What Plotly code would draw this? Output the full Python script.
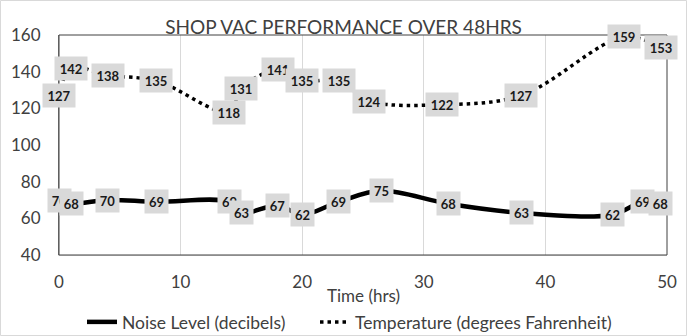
import plotly.graph_objects as go

# ---- data ----
time_noise = [0, 1, 4, 8, 14, 15, 18, 20, 23, 26.5, 32, 38, 45.5, 48, 49.5]
noise_db = [70, 68, 70, 69, 69, 63, 67, 62, 69, 75, 68, 63, 62, 69, 68]
time_temp = [0, 1, 4, 8, 14, 15, 18, 20, 23, 25.5, 31.5, 38, 46.5, 49.5]
temp_f = [127, 142, 138, 135, 118, 131, 141, 135, 135, 124, 122, 127, 159, 153]
x_ticks = [0, 10, 20, 30, 40, 50]
y_ticks = [40, 60, 80, 100, 120, 140, 160]

FONT = "Lato"
TXT = "#404040"

fig = go.Figure()
fig.add_trace(go.Scatter(
    x=time_noise, y=noise_db, mode="lines", name="Noise Level (decibels)",
    line=dict(color="black", width=4.5, shape="spline", smoothing=1),
    legend="legend",
))
fig.add_trace(go.Scatter(
    x=time_temp, y=temp_f, mode="lines", name="Temperature (degrees Fahrenheit)",
    line=dict(color="black", width=3.5, shape="spline", smoothing=1, dash="3.5px,4px"),
    legend="legend2",
))

annotations = []
for xs, ys in ((time_noise, noise_db), (time_temp, temp_f)):
    for xv, yv in zip(xs, ys):
        s = str(yv)
        annotations.append(dict(
            x=xv, y=yv, xref="x", yref="y", text="<b>%s</b>" % s, showarrow=False,
            font=dict(family=FONT, size=13, color="#1a1a1a"),
            bgcolor="#d9d9d9", borderpad=3,
            width=26 if len(s) == 3 else 17, height=17,
            xanchor="center", yanchor="middle",
        ))

W, H = 687, 336
ml, mr, mt, mb = 59, 20, 35, 81
pw, ph = W - ml - mr, H - mt - mb

annotations.append(dict(
    text="Time (hrs)", x=0.5, y=-(295 - (H - mb)) / ph, xref="paper", yref="paper",
    showarrow=False, xanchor="center", yanchor="middle",
    font=dict(family=FONT, size=17, color=TXT),
))

shapes = [
    # plot area border (top / right)
    dict(type="rect", xref="paper", yref="paper", x0=0, x1=1, y0=0, y1=1,
         line=dict(color="#404040", width=1), layer="above"),
    # chart border
    dict(type="rect", xref="paper", yref="paper",
         x0=-(ml - 0.5) / pw, x1=1 + (mr - 0.5) / pw,
         y0=-(mb - 0.5) / ph, y1=1 + (mt - 0.5) / ph,
         line=dict(color="#d9d9d9", width=1), layer="below"),
]

legend_common = dict(orientation="h", xref="container", yref="container",
                     y=1 - 322 / H, xanchor="left", yanchor="middle",
                     font=dict(family=FONT, size=17.5, color=TXT), itemwidth=30,
                     bgcolor="rgba(0,0,0,0)")

fig.update_layout(
    width=W, height=H,
    margin=dict(l=ml, r=mr, t=mt, b=mb, autoexpand=False),
    paper_bgcolor="white", plot_bgcolor="white",
    font=dict(family=FONT, size=17, color=TXT),
    title=dict(text="SHOP VAC PERFORMANCE OVER 48HRS", x=343.5 / W, xref="container",
               y=1 - 27.5 / H, yref="container", xanchor="center", yanchor="middle",
               automargin=False,
               font=dict(family=FONT, size=19, color=TXT)),
    xaxis=dict(range=[0, 50], tickvals=x_ticks, showgrid=True, gridcolor="#d9d9d9",
               gridwidth=1, showline=True, linecolor="#d9d9d9", linewidth=1,
               zeroline=False, ticks="", ticklabelstandoff=12, automargin=False,
               tickfont=dict(family=FONT, size=17, color=TXT)),
    yaxis=dict(range=[40, 160], tickvals=y_ticks, showgrid=False, showline=True,
               linecolor="#7f7f7f", linewidth=1, zeroline=False, ticks="",
               ticklabelstandoff=14, automargin=False,
               tickfont=dict(family=FONT, size=17, color=TXT)),
    legend=dict(legend_common, x=82 / W),
    legend2=dict(legend_common, x=315 / W),
    annotations=annotations,
    shapes=shapes,
    showlegend=True,
)

fig.write_html(
    "out.html",
    config={"displayModeBar": False},
    post_script="document.body.style.margin='0';document.body.style.overflow='hidden';",
)
